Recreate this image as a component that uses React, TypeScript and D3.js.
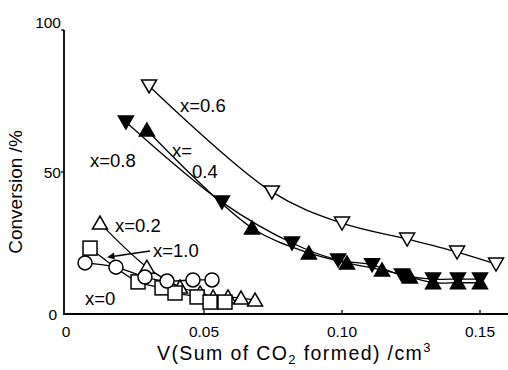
import React from "react";
import * as d3 from "d3";

// Series data: [V (cm3), conversion (%)]
const seriesX06: [number, number][] = [
  [0.0301, 80.3], [0.0746, 43.0], [0.100, 32.0], [0.1236, 26.4], [0.1417, 21.8], [0.1558, 17.6],
];
const seriesX08: [number, number][] = [
  [0.0217, 67.6], [0.0565, 39.4], [0.0819, 25.0], [0.0986, 19.0], [0.1109, 17.3],
  [0.1217, 13.7], [0.133, 12.3], [0.142, 12.3], [0.150, 12.3],
];
const seriesX04: [number, number][] = [
  [0.0293, 64.8], [0.0674, 30.3], [0.088, 21.5], [0.1018, 18.0], [0.1145, 15.5],
  [0.1246, 13.0], [0.133, 11.0], [0.142, 11.0], [0.150, 11.0],
];
const seriesX02: [number, number][] = [
  [0.0123, 32.0], [0.0293, 16.5], [0.0413, 9.5], [0.0486, 7.4], [0.0533, 6.0],
  [0.0587, 6.0], [0.0634, 5.6], [0.0685, 4.9],
];
const seriesX10: [number, number][] = [
  [0.0087, 23.2], [0.0261, 11.3], [0.0348, 9.2], [0.0395, 7.4], [0.0475, 6.0],
  [0.0522, 4.2], [0.0576, 4.2],
];
const seriesX00: [number, number][] = [
  [0.0069, 18.0], [0.0181, 16.5], [0.0286, 13.0], [0.0366, 11.6], [0.046, 12.0], [0.0529, 12.0],
];

const xTicks = [0, 0.05, 0.1, 0.15];
const xTickLabels = ["0", "0.05", "0.10", "0.15"];
const yTicks = [0, 50, 100];
const yTickLabels = ["0", "50", "100"];

const W = 508;
const H = 370;
const FONT = "'Liberation Sans', Arial, sans-serif";

export default function App() {
  const x = d3.scaleLinear().domain([0, 0.16]).range([66, 507.6]);
  const y = d3.scaleLinear().domain([0, 100]).range([314, 30]);

  const line = d3
    .line<[number, number]>()
    .x((d) => x(d[0]))
    .y((d) => y(d[1]))
    .curve(d3.curveCatmullRom.alpha(0.5));

  const triDown = "M-7.5,-6L7.5,-6L0,7Z";
  const triUp = "M-7.5,6L7.5,6L0,-7Z";

  const markers = (
    data: [number, number][],
    kind: string,
    key: string
  ) =>
    data.map((d, i) => {
      const cx = x(d[0]);
      const cy = y(d[1]);
      const common = { stroke: "#000", strokeWidth: 1.5 };
      if (kind === "downOpen")
        return <path key={key + i} d={triDown} transform={`translate(${cx},${cy})`} fill="#fff" {...common} />;
      if (kind === "downFilled")
        return <path key={key + i} d={triDown} transform={`translate(${cx},${cy})`} fill="#000" {...common} />;
      if (kind === "upFilled")
        return <path key={key + i} d={triUp} transform={`translate(${cx},${cy})`} fill="#000" {...common} />;
      if (kind === "upOpen")
        return <path key={key + i} d={triUp} transform={`translate(${cx},${cy})`} fill="#fff" {...common} />;
      if (kind === "square")
        return <rect key={key + i} x={cx - 7} y={cy - 7} width={14} height={14} fill="#fff" {...common} />;
      return <circle key={key + i} cx={cx} cy={cy} r={7} fill="#fff" {...common} />;
    });

  const curves = [seriesX06, seriesX08, seriesX04, seriesX02, seriesX10, seriesX00];

  return (
    <svg
      width={W}
      height={H}
      style={{ position: "absolute", left: 0, top: 0, background: "#fff" }}
      fontFamily={FONT}
    >
      <rect width={W} height={H} fill="#fff" />
      {/* axes */}
      <line x1={64} y1={y(100)} x2={64} y2={y(0) + 1} stroke="#000" strokeWidth={1.8} />
      <line x1={64} y1={y(0)} x2={W} y2={y(0)} stroke="#000" strokeWidth={1.8} />
      {xTicks.map((t, i) => (
        <g key={"xt" + i}>
          {t > 0 && <line x1={x(t)} x2={x(t)} y1={y(0)} y2={y(0) - 4} stroke="#000" strokeWidth={1.3} />}
          <text x={x(t)} y={337} textAnchor="middle" fontSize={15.5}>
            {xTickLabels[i]}
          </text>
        </g>
      ))}
      {yTicks.map((t, i) => (
        <g key={"yt" + i}>
          {t > 0 && <line x1={64} x2={61} y1={y(t)} y2={y(t)} stroke="#000" strokeWidth={1.3} />}
          <text x={t === 0 ? 57 : 61} y={y(t) + (t === 100 ? -2 : 6)} textAnchor="end" fontSize={15.5}>
            {yTickLabels[i]}
          </text>
        </g>
      ))}
      {/* axis titles */}
      <text x={157} y={360} fontSize={19.5} letterSpacing={1.4}>
        V(Sum of CO
        <tspan fontSize={13} dy={4}>2</tspan>
        <tspan dy={-4}> formed) /cm</tspan>
        <tspan fontSize={13} dy={-8}>3</tspan>
      </text>
      <text transform="translate(22,192) rotate(-90)" textAnchor="middle" fontSize={19}>
        Conversion /%
      </text>

      {/* curves */}
      {curves.map((c, i) => (
        <path key={"c" + i} d={line(c) || ""} fill="none" stroke="#000" strokeWidth={1.3} />
      ))}

      {/* arrow for x=1.0 */}
      <line x1={150} y1={251} x2={109} y2={257} stroke="#000" strokeWidth={1.3} />
      <path d="M107,257.3L114,252.5L114.8,259.5Z" fill="#000" />

      {/* markers */}
      {markers(seriesX06, "downOpen", "a")}
      {markers(seriesX04, "upFilled", "c")}
      {markers(seriesX08, "downFilled", "b")}
      {markers(seriesX02, "upOpen", "d")}
      {markers(seriesX10, "square", "e")}
      {markers(seriesX00, "circle", "f")}

      {/* series labels */}
      <g fontSize={18.5}>
        <text x={180} y={112}>x=0.6</text>
        <text x={90} y={167}>x=0.8</text>
        <text x={172} y={157}>x=</text>
        <text x={192} y={178}>0.4</text>
        <text x={115} y={232}>x=0.2</text>
        <text x={153} y={257}>x=1.0</text>
        <text x={85} y={305}>x=0</text>
      </g>
    </svg>
  );
}
